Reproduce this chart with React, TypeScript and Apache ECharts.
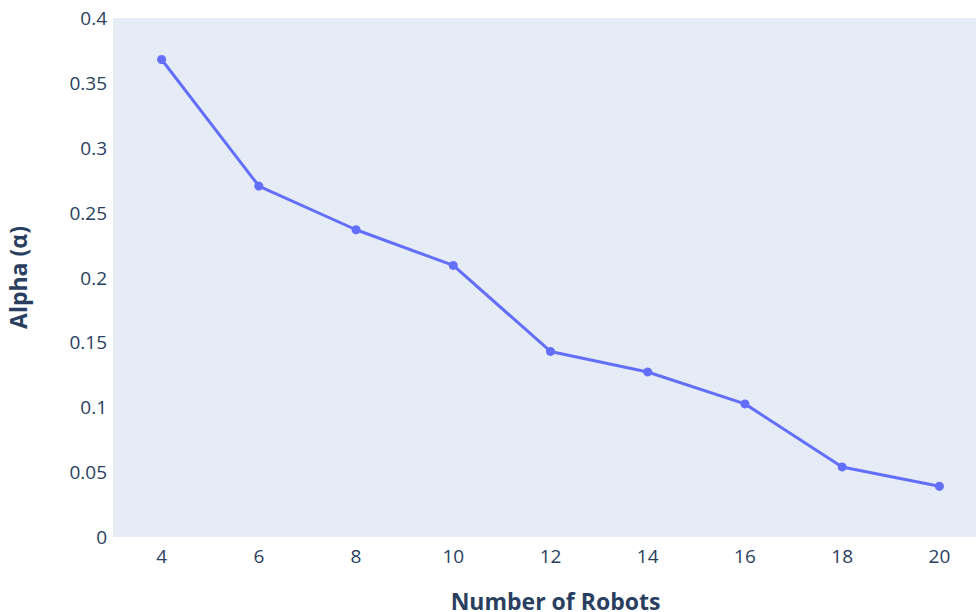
import React, { useEffect, useRef } from "react";
import * as echarts from "echarts";

const robots = [4, 6, 8, 10, 12, 14, 16, 18, 20];
const alpha = [0.368, 0.2705, 0.2368, 0.2093, 0.143, 0.1272, 0.1026, 0.054, 0.0391];
const xTicks = [4, 6, 8, 10, 12, 14, 16, 18, 20];
const yTicks = [0, 0.05, 0.1, 0.15, 0.2, 0.25, 0.3, 0.35, 0.4];

const FONT = "'Open Sans', 'Noto Sans', sans-serif";
const TXT = "#2a3f5f";

export default function App() {
  const ref = useRef<HTMLDivElement>(null);
  useEffect(() => {
    document.body.style.margin = "0";
    const chart = echarts.init(ref.current!, null, { renderer: "svg" });
    chart.setOption({
      animation: false,
      backgroundColor: "#ffffff",
      grid: {
        left: 113,
        right: -12,
        top: 18,
        bottom: 75,
        show: true,
        backgroundColor: "#e5ecf6",
        borderWidth: 0,
        outerBoundsMode: "none",
        containLabel: false,
      },
      xAxis: {
        type: "value",
        min: 3,
        max: 21,
        name: "Number of Robots",
        nameLocation: "middle",
        nameGap: 54,
        nameTextStyle: {
          fontFamily: FONT,
          fontSize: 23,
          lineHeight: 20,
          fontWeight: "bold",
          color: TXT,
          padding: [0, 0, 0, 10],
        },
        axisLine: { show: false },
        axisTick: { show: false },
        splitLine: { show: false },
        axisLabel: {
          customValues: xTicks,
          fontFamily: FONT,
          fontSize: 19,
          color: TXT,
          margin: 9,
        },
      },
      yAxis: {
        type: "value",
        min: 0,
        max: 0.4,
        interval: 0.05,
        name: "Alpha (α)",
        nameLocation: "middle",
        nameGap: 84,
        nameTextStyle: { fontFamily: FONT, fontSize: 23, fontWeight: "bold", color: TXT },
        axisLine: { show: false },
        axisTick: { show: false },
        splitLine: { show: false },
        axisLabel: {
          customValues: yTicks,
          fontFamily: FONT,
          fontSize: 19,
          color: TXT,
          margin: 6,
          formatter: (v: number) => String(parseFloat(v.toFixed(2))),
        },
      },
      series: [
        {
          type: "line",
          data: robots.map((r, i) => [r, alpha[i]]),
          symbol: "circle",
          symbolSize: 9,
          showSymbol: true,
          lineStyle: { color: "#636efa", width: 3 },
          itemStyle: { color: "#636efa" },
        },
      ],
    });
    return () => chart.dispose();
  }, []);
  return <div ref={ref} style={{ width: 976, height: 612, overflow: "hidden" }} />;
}
